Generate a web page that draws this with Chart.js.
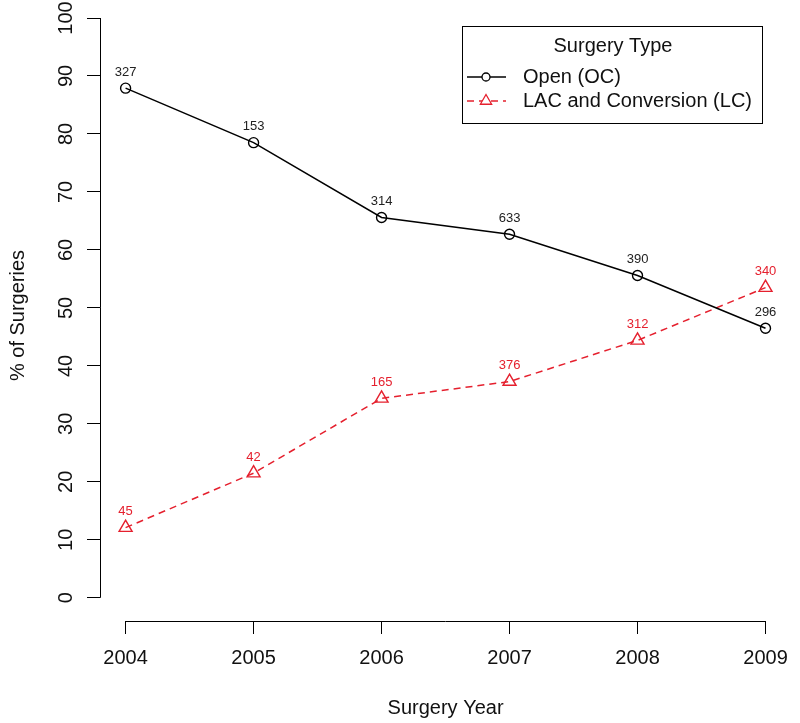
<!DOCTYPE html>
<html>
<head>
<meta charset="utf-8">
<script src="https://cdn.jsdelivr.net/npm/chart.js@4"></script>
<style>
  html, body { margin: 0; padding: 0; background: #fff; }
  canvas { display: block; }
</style>
</head>
<body>
<canvas id="chartCanvas" width="800" height="723"></canvas>
<script>
// data
const years = [2004, 2005, 2006, 2007, 2008, 2009];
const openPct = [87.9, 78.5, 65.6, 62.7, 55.6, 46.5];
const lacPct = [12.1, 21.5, 34.4, 37.3, 44.4, 53.5];
const openCounts = [327, 153, 314, 633, 390, 296];
const lacCounts = [45, 42, 165, 376, 312, 340];
const yTicks = [0, 10, 20, 30, 40, 50, 60, 70, 80, 90, 100];

const RED = '#e5202e';
const FONT = 'Liberation Sans, Arial, sans-serif';
Chart.defaults.font.family = FONT;

// R style axis lines: only from first to last tick
const axisLines = {
  id: 'axisLines',
  afterDraw(chart) {
    const ctx = chart.ctx;
    const x = chart.scales.x, y = chart.scales.y;
    ctx.save();
    ctx.strokeStyle = '#000';
    ctx.lineWidth = 1;
    ctx.beginPath();
    const lx = Math.round(chart.chartArea.left) + 0.5;
    ctx.moveTo(lx, y.getPixelForValue(0));
    ctx.lineTo(lx, y.getPixelForValue(100));
    const by = Math.round(chart.chartArea.bottom) + 0.5;
    ctx.moveTo(x.getPixelForValue(years[0]), by);
    ctx.lineTo(x.getPixelForValue(years[years.length - 1]), by);
    ctx.stroke();
    ctx.restore();
  }
};

// counts written above each point
const pointLabels = {
  id: 'pointLabels',
  afterDatasetsDraw(chart) {
    const ctx = chart.ctx;
    ctx.save();
    ctx.font = '13px ' + FONT;
    ctx.textAlign = 'center';
    ctx.textBaseline = 'middle';
    chart.data.datasets.forEach((ds, i) => {
      const meta = chart.getDatasetMeta(i);
      ctx.fillStyle = ds.borderColor === '#000' ? '#222' : ds.borderColor;
      meta.data.forEach((pt, j) => {
        ctx.fillText(String(ds.counts[j]), pt.x, pt.y - 16);
      });
    });
    ctx.restore();
  }
};

// boxed legend with title, line + marker samples
const boxLegend = {
  id: 'boxLegend',
  afterDraw(chart) {
    const ctx = chart.ctx;
    const bx = 462.5, by = 26.5, bw = 300, bh = 97;
    ctx.save();
    ctx.strokeStyle = '#000';
    ctx.lineWidth = 1;
    ctx.strokeRect(bx, by, bw, bh);
    ctx.fillStyle = '#111';
    ctx.font = '20px ' + FONT;
    ctx.textAlign = 'center';
    ctx.textBaseline = 'middle';
    ctx.fillText('Surgery Type', 613, 46);
    ctx.textAlign = 'left';
    const rows = [77, 101];
    chart.data.datasets.forEach((ds, i) => {
      const ry = rows[i];
      ctx.strokeStyle = ds.borderColor;
      ctx.lineWidth = 1.3;
      ctx.setLineDash(ds.borderDash || []);
      ctx.beginPath();
      ctx.moveTo(467, ry);
      ctx.lineTo(506, ry);
      ctx.stroke();
      ctx.setLineDash([]);
      ctx.fillStyle = '#fff';
      Chart.helpers.drawPoint(ctx, {
        pointStyle: ds.pointStyle,
        radius: ds.pointStyle === 'circle' ? 4 : 6.5,
        borderWidth: 1.3,
        rotation: 0
      }, 486, ry);
      ctx.fillStyle = '#111';
      ctx.fillText(ds.label, 523, ry);
    });
    ctx.restore();
  }
};

const ctx = document.getElementById('chartCanvas').getContext('2d');
const chart = new Chart(ctx, {
  type: 'line',
  data: {
    datasets: [{
      label: 'Open (OC)',
      data: years.map((yr, i) => ({ x: yr, y: openPct[i] })),
      counts: openCounts,
      borderColor: '#000',
      borderWidth: 1.5,
      pointStyle: 'circle',
      pointRadius: 5,
      pointBorderWidth: 1.4,
      pointBackgroundColor: 'rgba(0,0,0,0)',
      pointBorderColor: '#000',
      tension: 0,
      fill: false
    }, {
      label: 'LAC and Conversion (LC)',
      data: years.map((yr, i) => ({ x: yr, y: lacPct[i] })),
      counts: lacCounts,
      borderColor: RED,
      borderWidth: 1.5,
      borderDash: [7, 5],
      pointStyle: 'triangle',
      pointRadius: 7.5,
      pointBorderWidth: 1.4,
      pointBackgroundColor: 'rgba(0,0,0,0)',
      pointBorderColor: RED,
      tension: 0,
      fill: false
    }]
  },
  options: {
    responsive: false,
    devicePixelRatio: 1,
    animation: false,
    layout: { padding: { left: 0, top: 10, right: 1, bottom: 0 } },
    plugins: {
      legend: { display: false },
      tooltip: { enabled: false }
    },
    scales: {
      x: {
        type: 'linear',
        min: 2003.8,
        max: 2009.2,
        afterBuildTicks: s => { s.ticks = years.map(v => ({ value: v })); },
        afterFit: s => { s.height = 102; s.paddingLeft = 0; s.paddingRight = 0; },
        border: { display: false },
        grid: { drawOnChartArea: false, drawTicks: true, tickLength: 13, color: '#000', lineWidth: 1 },
        ticks: {
          color: '#111',
          font: { size: 20 },
          padding: 12,
          maxRotation: 0,
          autoSkip: false,
          callback: v => String(v)
        },
        title: {
          display: true,
          text: 'Surgery Year',
          color: '#111',
          font: { size: 20 },
          padding: { top: 0, bottom: 3 }
        }
      },
      y: {
        min: -4,
        max: 101.38,
        afterBuildTicks: s => { s.ticks = yTicks.map(v => ({ value: v })); },
        afterFit: s => { s.width = 100; s.paddingTop = 0; s.paddingBottom = 0; },
        border: { display: false },
        grid: { drawOnChartArea: false, drawTicks: true, tickLength: 13, color: '#000', lineWidth: 1 },
        ticks: {
          color: '#111',
          font: { size: 20 },
          padding: 4,
          minRotation: 90,
          maxRotation: 90,
          crossAlign: 'center',
          autoSkip: false,
          callback: v => String(v)
        },
        title: {
          display: true,
          text: '% of Surgeries',
          color: '#111',
          font: { size: 20 },
          padding: { top: 6, bottom: 0 }
        }
      }
    }
  },
  plugins: [axisLines, pointLabels, boxLegend]
});
</script>
</body>
</html>
